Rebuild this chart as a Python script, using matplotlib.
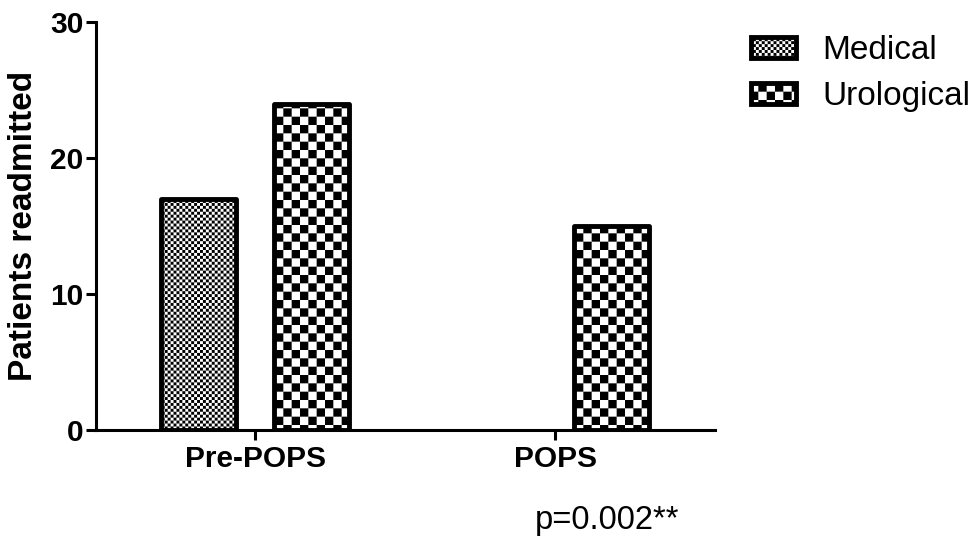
import warnings
import numpy as np
import matplotlib
matplotlib.use("Agg")
import matplotlib.pyplot as plt
import matplotlib.hatch as mhatch
from matplotlib.path import Path

warnings.filterwarnings("ignore")

groups = ["Pre-POPS", "POPS"]
medical = [17, 0]
urological = [24, 15]
series_names = ["Medical", "Urological"]


# checkerboard hatch: 'c' = fine squares, 'k' = coarse squares
class Checker(mhatch.HatchPatternBase):
    def __init__(self, hatch, density):
        if hatch.count("c"):
            self.n = 34
        elif hatch.count("k"):
            self.n = 12
        else:
            self.n = 0
        self.num_vertices = (self.n * self.n // 2) * 5

    def set_vertices_and_codes(self, vertices, codes):
        s = 1.0 / self.n
        k = 0
        for i in range(self.n):
            for j in range(self.n):
                if (i + j) % 2:
                    continue
                x0, y0 = j * s, i * s
                vertices[k:k + 5] = [[x0, y0], [x0 + s, y0], [x0 + s, y0 + s],
                                     [x0, y0 + s], [x0, y0]]
                codes[k:k + 5] = [Path.MOVETO, Path.LINETO, Path.LINETO,
                                  Path.LINETO, Path.CLOSEPOLY]
                k += 5


mhatch._hatch_types.append(Checker)

plt.rcParams["font.family"] = ["Liberation Sans", "DejaVu Sans"]
plt.rcParams["hatch.linewidth"] = 0.0
plt.rcParams["hatch.color"] = "black"

fig = plt.figure(figsize=(9.74, 5.39), dpi=100)
ax = fig.add_axes([0.0986, 0.2022, 0.6355, 0.7570])

x = np.arange(len(groups))
w = 0.25
off = 0.188
b1 = ax.bar(x - off, medical, w, facecolor="white", edgecolor="black",
            linewidth=3.5, hatch="c", joinstyle="round", label=series_names[0])
b2 = ax.bar(x + off, urological, w, facecolor="white", edgecolor="black",
            linewidth=3.5, hatch="k", joinstyle="round", label=series_names[1])
for bar, v in zip(b1, medical):
    if v == 0:
        bar.set_linewidth(0)

ax.set_xlim(-0.53, 1.533)
ax.set_ylim(0, 30)
ax.set_yticks([0, 10, 20, 30])
ax.set_xticks(x)
ax.set_xticklabels(groups)

for s in ["top", "right"]:
    ax.spines[s].set_visible(False)
for s in ["left", "bottom"]:
    ax.spines[s].set_linewidth(2.2)

ax.tick_params(axis="both", width=2.2, length=7, labelsize=21.5)
ax.tick_params(axis="x", pad=4)
ax.tick_params(axis="y", pad=2)
for lab in ax.get_xticklabels() + ax.get_yticklabels():
    lab.set_fontweight("bold")

ax.set_ylabel("Patients readmitted", fontsize=24, fontweight="bold", labelpad=8)

ax.legend(loc="upper left", bbox_to_anchor=(0.771, 0.935), bbox_transform=fig.transFigure,
          frameon=False, fontsize=24, handlelength=1.35, handleheight=0.62,
          handletextpad=0.8, labelspacing=0.45, borderpad=0, borderaxespad=0)

fig.text(0.623, 0.019, "p=0.002**", ha="center", va="baseline", fontsize=23.5)

fig.savefig("out.png", dpi=100)
